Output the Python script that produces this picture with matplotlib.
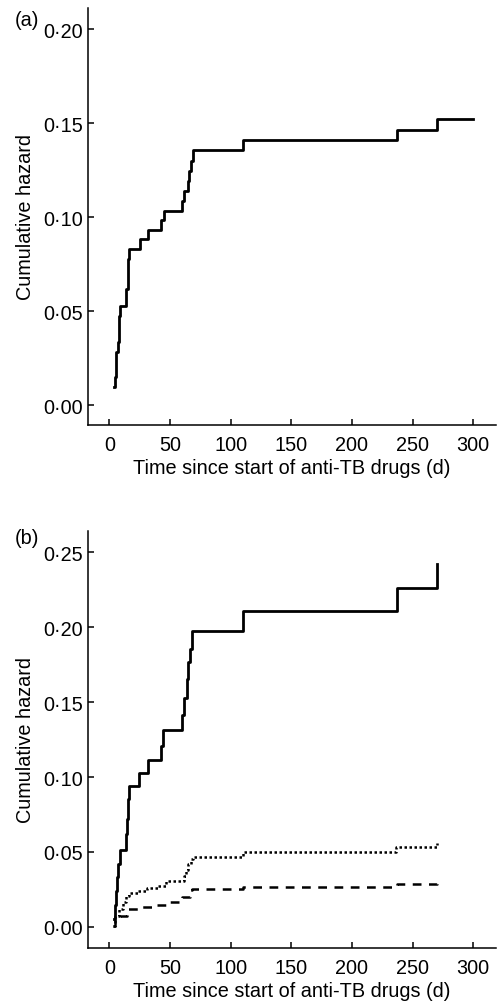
import matplotlib
matplotlib.use("Agg")
import matplotlib.pyplot as plt
from matplotlib.ticker import FuncFormatter, MultipleLocator

plt.rcParams['font.family'] = ['Liberation Sans', 'DejaVu Sans']

# ---- Data ----
a_time = [3.5, 4.5, 5.6, 6.9, 8.0, 8.8, 13.8, 15.0, 16.5, 25.0, 32.0, 43.0, 45.0,
          60.0, 61.8, 64.8, 66.0, 67.0, 68.7, 110.0, 237.0, 270.4, 300.0]
a_haz = [0.0094, 0.0147, 0.0280, 0.0333, 0.0475, 0.0528, 0.0620, 0.0777, 0.0830,
         0.0881, 0.0932, 0.0982, 0.1034, 0.1087, 0.1140, 0.1193, 0.1246, 0.1300,
         0.1355, 0.1409, 0.1464, 0.1520, 0.1520]

b_solid_time = [3.5, 4.7, 5.5, 6.3, 7.2, 8.5, 14.0, 14.5, 15.2, 16.5, 24.7, 32.0,
                42.5, 44.0, 60.0, 61.9, 63.8, 65.2, 66.5, 68.3, 110.0, 237.0, 270.4]
b_solid = [0.0050, 0.0145, 0.0240, 0.0330, 0.0420, 0.0515, 0.0620, 0.0720, 0.0853,
           0.0938, 0.1027, 0.1116, 0.1210, 0.1316, 0.1416, 0.1528, 0.1655, 0.1766,
           0.1855, 0.1977, 0.2110, 0.2263, 0.2423]

b_dot_time = [2.8, 5.0, 8.0, 11.0, 14.0, 16.0, 24.0, 31.0, 40.0, 47.0, 61.5, 63.0,
              65.0, 67.0, 69.0, 110.0, 236.5, 270.4]
b_dot = [0.0007, 0.0073, 0.0118, 0.0165, 0.0207, 0.0225, 0.0240, 0.0257, 0.0274,
         0.0303, 0.0340, 0.0380, 0.0420, 0.0452, 0.0463, 0.0497, 0.0530, 0.0559]

b_dash_time = [3.0, 4.5, 9.0, 14.3, 26.7, 36.3, 50.0, 59.7, 66.5, 68.5, 110.0, 237.0, 270.4]
b_dash = [0.0005, 0.0063, 0.0073, 0.0118, 0.0130, 0.0147, 0.0167, 0.0196, 0.0247,
          0.0252, 0.0263, 0.0285, 0.0300]

x_label = "Time since start of anti-TB drugs (d)"
y_label = "Cumulative hazard"

FS = 14.3
W, H = 497, 1003
fig = plt.figure(figsize=(W / 100, H / 100), dpi=100)

def frac(l, t, r, b):
    return [l / W, 1 - b / H, (r - l) / W, (b - t) / H]

fmt = FuncFormatter(lambda v, p: f"{v:.2f}".replace('.', '\u00b7'))

def style(ax, ylim, ystep):
    ax.set_xlim(-17.6, 318.8)
    ax.set_ylim(*ylim)
    ax.xaxis.set_major_locator(MultipleLocator(50))
    ax.yaxis.set_major_locator(MultipleLocator(ystep))
    ax.yaxis.set_major_formatter(fmt)
    for s in ['top', 'right']:
        ax.spines[s].set_visible(False)
    for s in ['left', 'bottom']:
        ax.spines[s].set_linewidth(1.1)
    ax.tick_params(axis='both', direction='in', length=4, width=1.1,
                   labelsize=FS, colors='black')
    ax.tick_params(axis='x', pad=7)
    ax.tick_params(axis='y', pad=3.5)
    ax.set_xlabel(x_label, fontsize=FS, labelpad=3)
    ax.set_ylabel(y_label, fontsize=FS)
    ax.yaxis.set_label_coords(-0.130, 0.5)

ax1 = fig.add_axes(frac(88, 9, 496, 426))
ax1.step(a_time, a_haz, where='post', color='black', lw=2.0)
style(ax1, (-0.0106, 0.2112), 0.05)
fig.text(15 / W, 1 - 21 / H, "(a)", fontsize=FS, va='center', ha='left')

ax2 = fig.add_axes(frac(88, 531.7, 496, 949.3))
ax2.step(b_solid_time, b_solid, where='post', color='black', lw=2.0)
ax2.step(b_dot_time, b_dot, where='post', color='black', lw=1.8, linestyle=(0, (1, 1)))
ax2.step(b_dash_time, b_dash, where='post', color='black', lw=1.8, linestyle=(0, (3.5, 3)))
style(ax2, (-0.0144, 0.2645), 0.05)
fig.text(15 / W, 1 - 539 / H, "(b)", fontsize=FS, va='center', ha='left')

fig.savefig("out.png", dpi=100)
